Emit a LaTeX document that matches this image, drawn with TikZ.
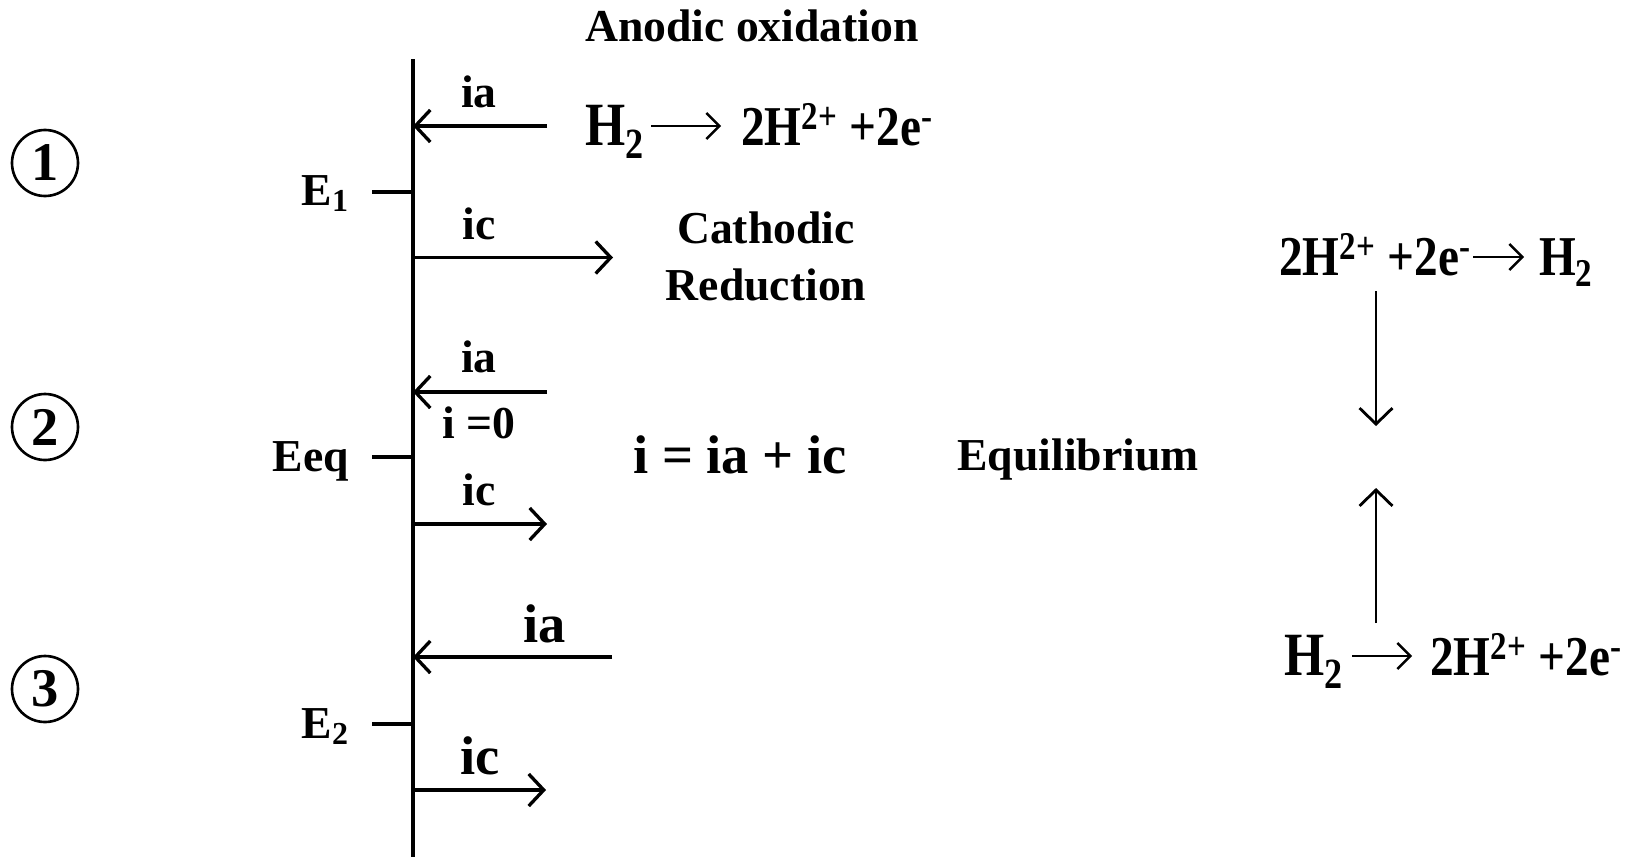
\documentclass[tikz,border=0pt]{standalone}
\usepackage{fontspec}
\setmainfont{Liberation Serif}
\newfontfamily\tallfont{Liberation Serif}[FakeStretch=0.84]
\usetikzlibrary{positioning, arrows.meta}

\begin{document}
\begin{tikzpicture}[
  lbl/.style={font=\fontsize{26}{32.5}\selectfont\bfseries, inner sep=1pt},
  big/.style={font=\fontsize{31}{36}\selectfont\bfseries, inner sep=1pt},
  eqtxt/.style={font=\tallfont\fontsize{32}{38}\selectfont\bfseries, inner sep=1pt},
  eqbig/.style={font=\tallfont\fontsize{35}{40}\selectfont\bfseries, inner sep=1pt},
  num/.style={circle, draw, line width=1.5pt, minimum size=1.32cm, inner sep=0pt,
              font=\fontsize{31}{34}\selectfont\bfseries},
  axis/.style={line width=1.9pt},
  arr/.style={-{Straight Barb[length=3mm, width=6.4mm]}, line width=1.9pt},
  eqarr/.style={-{Straight Barb[length=2.6mm, width=5.2mm]}, line width=1.4pt},
  varr/.style={-{Straight Barb[length=3.2mm, width=6.6mm]}, line width=1.6pt}
]
  \useasboundingbox (0,0) rectangle (32.56,-17.14);

  % Potential axis
  \coordinate (axtop) at (8.26,-1.18);
  \coordinate (axbot) at (8.26,-17.14);
  \draw[axis] (axtop) -- (axbot);

  \node[num] (n1) at (0.9,-3.26) {1};
  \node[num] (n2) at (0.9,-8.54) {2};
  \node[num] (n3) at (0.9,-13.78) {3};

  % Case 1: E1
  \node[lbl, anchor=base] (title) at (15.04,-0.83) {Anodic oxidation};
  \coordinate (t1) at (7.44,-3.84);
  \draw[axis] (t1) -- (axtop |- t1);
  \node[lbl, anchor=base east] (e1) at (7.02,-4.10) {E\textsubscript{1}};

  \coordinate (ia1) at (10.94,-2.52);
  \draw[arr] (ia1) -- (axtop |- ia1);
  \node[lbl, anchor=base] (ia1lbl) at (9.58,-2.14) {ia};
  \coordinate (ic1) at (12.26,-5.15);
  \draw[arr] (axtop |- ic1) -- (ic1);
  \node[lbl, anchor=base] (ic1lbl) at (9.58,-4.78) {ic};

  \node[eqbig, anchor=base west] (h2a) at (11.66,-2.90) {H\textsubscript{2}};
  \node[eqtxt, anchor=base west] (proda) at (14.78,-2.90) {2H\textsuperscript{2+} +2e\textsuperscript{-}};
  \draw[eqarr, shorten <=0.1cm, shorten >=0.36cm]
    ([yshift=0.38cm]h2a.base east) -- ([yshift=0.38cm]proda.base west);

  \node[lbl, align=center] (cathred) at (15.32,-5.12) {Cathodic\\Reduction};

  % Case 2: Eeq
  \coordinate (t2) at (7.44,-9.14);
  \draw[axis] (t2) -- (axtop |- t2);
  \node[lbl, anchor=base east] (eeq) at (7.02,-9.42) {Eeq};

  \coordinate (ia2) at (10.94,-7.84);
  \draw[arr] (ia2) -- (axtop |- ia2);
  \node[lbl, anchor=base] (ia2lbl) at (9.58,-7.44) {ia};
  \node[lbl, anchor=base] (izero) at (9.58,-8.76) {i =0};
  \coordinate (ic2) at (10.94,-10.48);
  \draw[arr] (axtop |- ic2) -- (ic2);
  \node[lbl, anchor=base] (ic2lbl) at (9.58,-10.10) {ic};

  \node[big, anchor=base] (isum) at (14.8,-9.46) {i = ia + ic};
  \node[lbl, anchor=base] (equil) at (21.56,-9.40) {Equilibrium};

  % Case 3: E2
  \coordinate (t3) at (7.44,-14.48);
  \draw[axis] (t3) -- (axtop |- t3);
  \node[lbl, anchor=base east] (e2) at (7.02,-14.76) {E\textsubscript{2}};

  \coordinate (ia3) at (12.24,-13.14);
  \draw[arr] (ia3) -- (axtop |- ia3);
  \node[big, anchor=base] (ia3lbl) at (10.9,-12.84) {ia};
  \coordinate (ic3) at (10.92,-15.80);
  \draw[arr] (axtop |- ic3) -- (ic3);
  \node[big, anchor=base] (ic3lbl) at (9.6,-15.48) {ic};

  % Equilibrium reactions
  \node[eqtxt, anchor=base west] (prodb) at (25.54,-5.50) {2H\textsuperscript{2+} +2e\textsuperscript{-}};
  \node[eqtxt, anchor=base west] (h2b) at (30.74,-5.50) {H\textsubscript{2}};
  \draw[eqarr, shorten >=0.26cm]
    ([yshift=0.36cm]prodb.base east) -- ([yshift=0.36cm]h2b.base west);

  \node[eqbig, anchor=base west] (h2c) at (25.64,-13.50) {H\textsubscript{2}};
  \node[eqtxt, anchor=base west] (prodc) at (28.56,-13.50) {2H\textsuperscript{2+} +2e\textsuperscript{-}};
  \draw[eqarr, shorten <=0.14cm, shorten >=0.32cm]
    ([yshift=0.38cm]h2c.base east) -- ([yshift=0.38cm]prodc.base west);

  \coordinate (dntop) at (27.52,-5.82);
  \coordinate (dnend) at (27.52,-8.52);
  \coordinate (upbot) at (27.52,-12.46);
  \coordinate (upend) at (27.52,-9.76);
  \draw[varr] (dntop) -- (dnend);
  \draw[varr] (upbot) -- (upend);
\end{tikzpicture}
\end{document}
